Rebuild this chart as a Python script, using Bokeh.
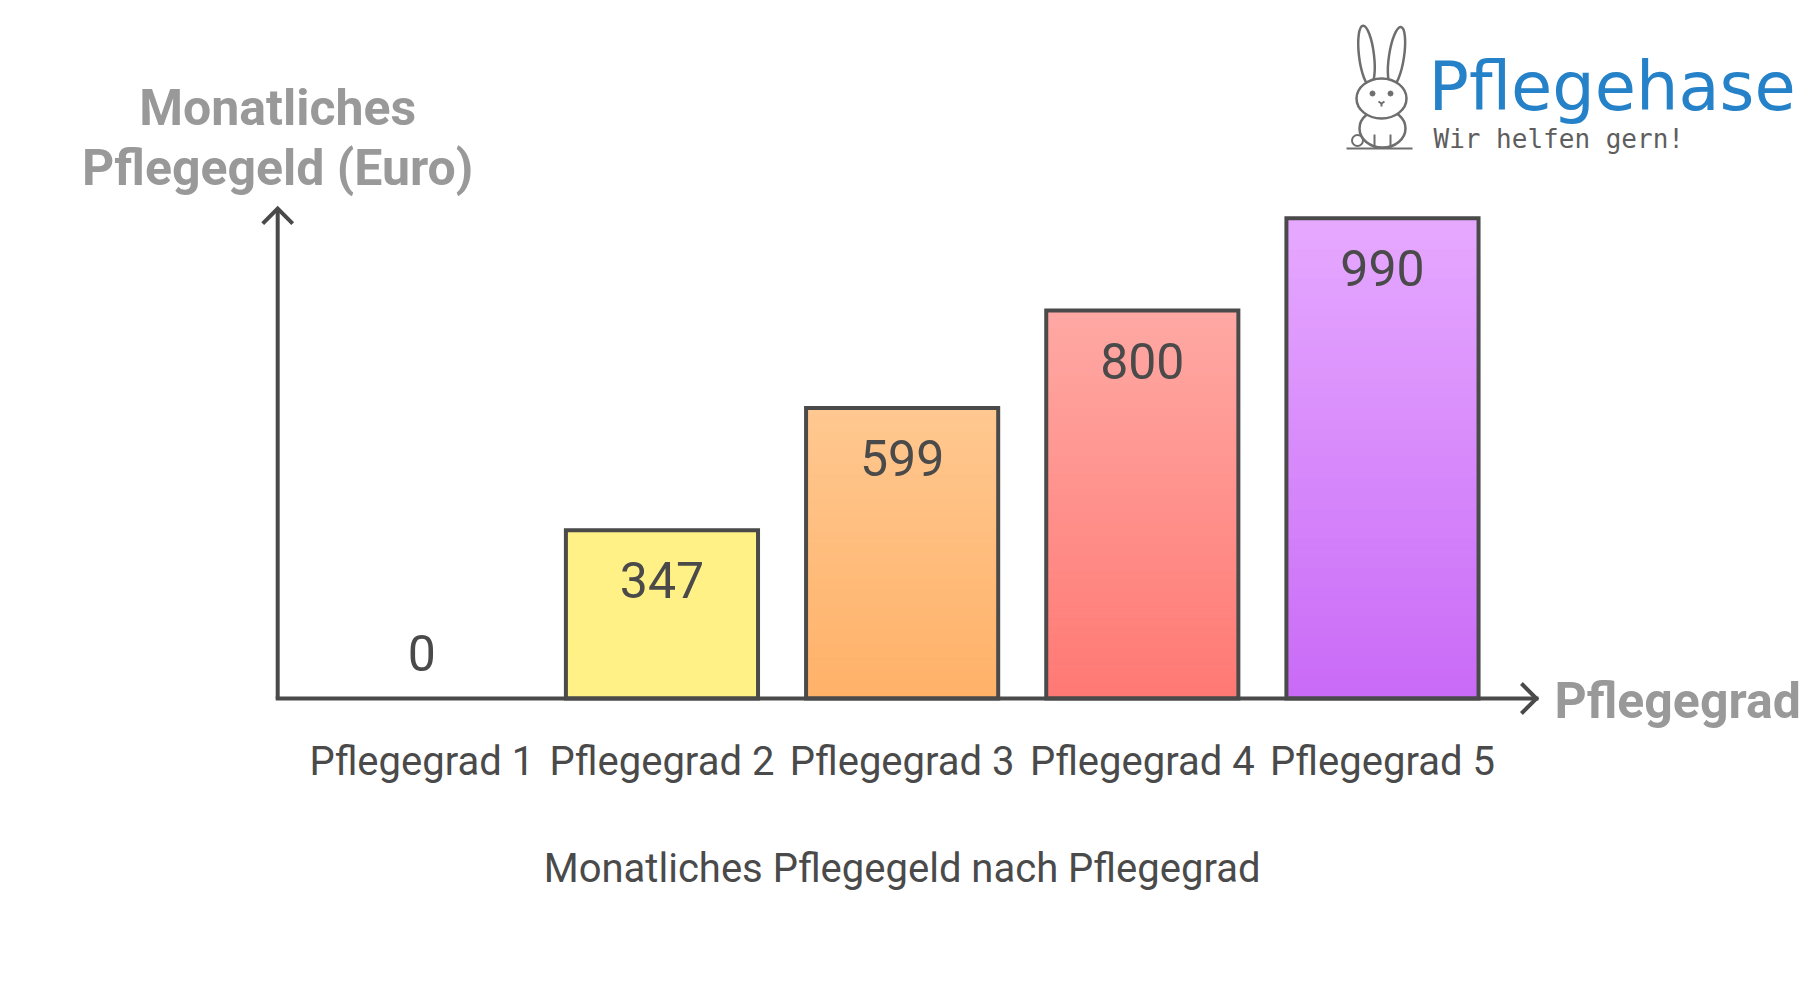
from bokeh.plotting import figure
from bokeh.models import Range1d
from bokeh.embed import file_html
from bokeh.resources import INLINE
from bokeh.core.properties import value

# ---------------- data ----------------
categories = ["Pflegegrad 1", "Pflegegrad 2", "Pflegegrad 3", "Pflegegrad 4", "Pflegegrad 5"]
pflegegeld = [0, 347, 599, 800, 990]
top_colors = ["#FFFFFF", "#FFF186", "#FFC890", "#FFA9A4", "#E6A9FF"]
bottom_colors = ["#FFFFFF", "#FFF186", "#FFB168", "#FF7873", "#C96AF7"]
y_title = ["Monatliches", "Pflegegeld (Euro)"]
x_title = "Pflegegrad"
chart_title = "Monatliches Pflegegeld nach Pflegegrad"

# ---------------- layout ----------------
W, H = 1800, 972
PPX = 240.17          # px per category
PPY = 0.485           # px per euro
C0 = 421.3            # page x of first category centre
BASE = 698.0          # page y of zero line
OFF = 0
x_start = -(C0 - OFF) / PPX
x_end = x_start + W / PPX
y_start = -(H - (BASE - OFF)) / PPY
y_end = y_start + H / PPY

def fx(X):
    return x_start + (X - OFF) / PPX

def fy(Y):
    return y_start + (H - (Y - OFF)) / PPY

DARK = "#4A4A4A"
GREY = "#999999"
FONT = value("Roboto")

p = figure(width=W, height=H, x_range=Range1d(x_start, x_end), y_range=Range1d(y_start, y_end),
           output_backend="svg", toolbar_location=None, min_border=0,
           x_axis_type=None, y_axis_type=None)
p.grid.visible = False
p.outline_line_color = None
p.background_fill_color = "white"
p.border_fill_color = "white"

def hex2rgb(h):
    h = h.lstrip("#")
    return tuple(int(h[i:i + 2], 16) for i in (0, 2, 4))

def mix(c1, c2, t):
    a, b = hex2rgb(c1), hex2rgb(c2)
    return "#%02x%02x%02x" % tuple(int(round(a[i] + (b[i] - a[i]) * t)) for i in range(3))

BW = 0.8
N = 48
for i, v in enumerate(pflegegeld):
    if v <= 0:
        continue
    ls, rs, bs, ts, cs = [], [], [], [], []
    for k in range(N):
        b = v * k / N
        t = v * (k + 1) / N
        ls.append(i - BW / 2)
        rs.append(i + BW / 2)
        bs.append(b)
        ts.append(t)
        cs.append(mix(bottom_colors[i], top_colors[i], (k + 0.5) / N))
    p.quad(left=ls, right=rs, bottom=bs, top=ts, fill_color=cs, line_color=cs, line_width=1)

bars = [(i, v) for i, v in enumerate(pflegegeld) if v > 0]
p.quad(left=[i - BW / 2 for i, v in bars], right=[i + BW / 2 for i, v in bars],
       bottom=[0] * len(bars), top=[v for i, v in bars],
       fill_color=None, line_color=DARK, line_width=4, line_join="miter")

# axes with arrow heads
ax_x = -0.6
ax_right = 4.641
ax_top = 1010
p.line([ax_x, ax_x], [0, ax_top], line_color=DARK, line_width=4)
p.line([ax_x, ax_right], [0, 0], line_color=DARK, line_width=4, line_cap="square")
ah = 15
p.line([ax_x - ah / PPX, ax_x, ax_x + ah / PPX], [ax_top - ah / PPY, ax_top, ax_top - ah / PPY],
       line_color=DARK, line_width=4, line_join="miter")
p.line([ax_right - ah / PPX, ax_right, ax_right - ah / PPX], [ah / PPY, 0, -ah / PPY],
       line_color=DARK, line_width=4, line_join="miter")

# value labels
xs = list(range(len(pflegegeld)))
p.text(x=xs, y=pflegegeld, text=[str(v) for v in pflegegeld],
       y_offset=[50 if v > 0 else -46 for v in pflegegeld],
       text_align="center", text_baseline="middle", text_font=FONT,
       text_font_size="50px", text_color=DARK)

# category labels
p.text(x=xs, y=[0] * len(xs), text=categories, y_offset=63, text_align="center",
       text_baseline="middle", text_font=FONT, text_font_size="40px", text_color=DARK)

# chart title
p.text(x=[(len(xs) - 1) / 2], y=[0], text=[chart_title], y_offset=170, text_align="center",
       text_baseline="middle", text_font=FONT, text_font_size="40px", text_color=DARK)

# axis titles
p.text(x=[ax_x, ax_x], y=[ax_top, ax_top], text=y_title, y_offset=[-101, -41],
       text_align="center", text_baseline="middle", text_font=FONT, text_font_size="50px",
       text_font_style="bold", text_color=GREY)
p.text(x=[4.716], y=[0], text=[x_title], y_offset=2, text_align="left",
       text_baseline="middle", text_font=FONT, text_font_size="50px",
       text_font_style="bold", text_color=GREY)

# ---------------- logo ----------------
LG = "#6E6E6E"
p.ellipse(x=[fx(1366), fx(1396)], y=[fy(55), fy(56)], width=15, height=60,
          width_units="screen", height_units="screen", angle=[0.12, -0.15],
          fill_color="white", line_color=LG, line_width=2.5)
p.ellipse(x=[fx(1357)], y=[fy(140)], width=11, height=11, width_units="screen",
          height_units="screen", fill_color="white", line_color=LG, line_width=2)
p.ellipse(x=[fx(1382)], y=[fy(128)], width=46, height=38, width_units="screen",
          height_units="screen", fill_color="white", line_color=LG, line_width=2.5)
p.ellipse(x=[fx(1381)], y=[fy(98)], width=50, height=40, width_units="screen",
          height_units="screen", fill_color="white", line_color=LG, line_width=2.5)
p.scatter(x=[fx(1372), fx(1390)], y=[fy(93), fy(93)], size=5, color=LG)
p.multi_line(xs=[[fx(1378), fx(1381), fx(1384)], [fx(1381), fx(1381)],
                 [fx(1374), fx(1374)], [fx(1390), fx(1390)],
                 [fx(1346), fx(1412)]],
             ys=[[fy(101), fy(103), fy(101)], [fy(103), fy(106)],
                 [fy(134), fy(147)], [fy(134), fy(147)],
                 [fy(148), fy(148)]],
             line_color=LG, line_width=2)
p.text(x=[fx(1428)], y=[fy(125)], text=["Pflegehase"], text_align="left",
       text_baseline="bottom", text_font=value("DejaVu Sans"), text_font_size="67px",
       text_color="#2581C8")
p.text(x=[fx(1433)], y=[fy(153)], text=["Wir helfen gern!"], text_align="left",
       text_baseline="bottom", text_font=value("DejaVu Sans Mono"), text_font_size="26px",
       text_color="#5E5E5E")

open("out.html", "w").write(file_html(p, INLINE))
